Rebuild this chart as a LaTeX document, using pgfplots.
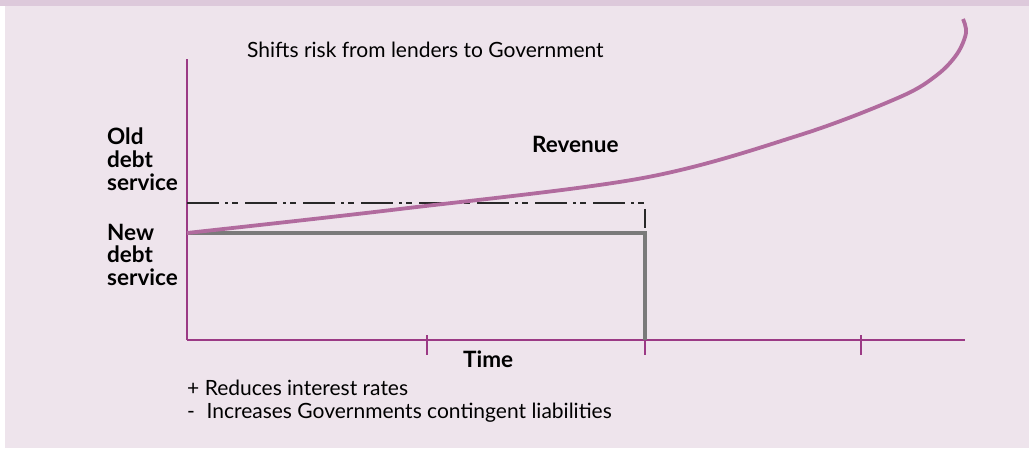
\documentclass[border=0pt]{standalone}
\usepackage{pgfplots}
\pgfplotsset{compat=1.18}
\usepackage{fontspec}
\setmainfont{Lato}
\definecolor{bgcol}{RGB}{238,228,236}
\definecolor{bandcol}{RGB}{221,201,219}
\definecolor{axcol}{RGB}{155,58,133}
\definecolor{revcol}{RGB}{177,107,158}
\definecolor{graycol}{RGB}{122,122,122}
\definecolor{dashcol}{RGB}{40,40,40}
\begin{document}
\begin{tikzpicture}[x=1bp,y=1bp]
\useasboundingbox (0,0) rectangle (1029,450);
\fill[white] (0,0) rectangle (1029,450);
\fill[bgcol] (5,2) rectangle (1029,444);
\fill[bandcol] (0,444) rectangle (1029,450);
\begin{axis}[
  x=1bp, y=1bp,
  at={(187bp,110bp)}, anchor=south west,
  xmin=0, xmax=778, ymin=0, ymax=281,
  clip=false,
  axis x line=bottom, axis y line=left,
  axis line style={-, line width=2bp, draw=axcol},
  xtick={240,458,674}, xticklabels={},
  ytick=\empty,
  major tick length=20bp, tick align=outside,
  xtick style={line width=2bp, draw=axcol, yshift=5bp},
]
\addplot[dashcol, line width=1.1bp, dash pattern=on 32bp off 6bp on 3bp off 4bp on 6bp off 7bp]
  coordinates {(0,137) (458,137) (458,112)};
\addplot[graycol, line width=3.5bp]
  coordinates {(0,107) (458,107) (458,0)};
\addplot[revcol, line width=3.8bp, smooth, tension=0.55]
  coordinates {(0,107) (213,131) (456,162) (613,205) (713,243) (750,265) (770,286) (779,307) (776,321)};
\end{axis}
\fontsize{21bp}{25bp}\selectfont
\node[anchor=base west, inner sep=0] at (247,392) {Shifts risk from lenders to Government};
\node[anchor=base west, inner sep=0] at (187,54) {+ Reduces interest rates};
\node[anchor=base west, inner sep=0] at (187,31) {-\hspace{0.55em}Increases Governments contingent liabilities};
\fontsize{22.5bp}{26bp}\selectfont\bfseries
\node[anchor=base west, inner sep=0] at (107,305) {Old};
\node[anchor=base west, inner sep=0] at (107,282) {debt};
\node[anchor=base west, inner sep=0] at (107,259) {service};
\node[anchor=base west, inner sep=0] at (107,209) {New};
\node[anchor=base west, inner sep=0] at (107,187) {debt};
\node[anchor=base west, inner sep=0] at (107,164) {service};
\node[anchor=base west, inner sep=0] at (532,297) {Revenue};
\node[anchor=base west, inner sep=0] at (463,82) {Time};
\end{tikzpicture}
\end{document}
